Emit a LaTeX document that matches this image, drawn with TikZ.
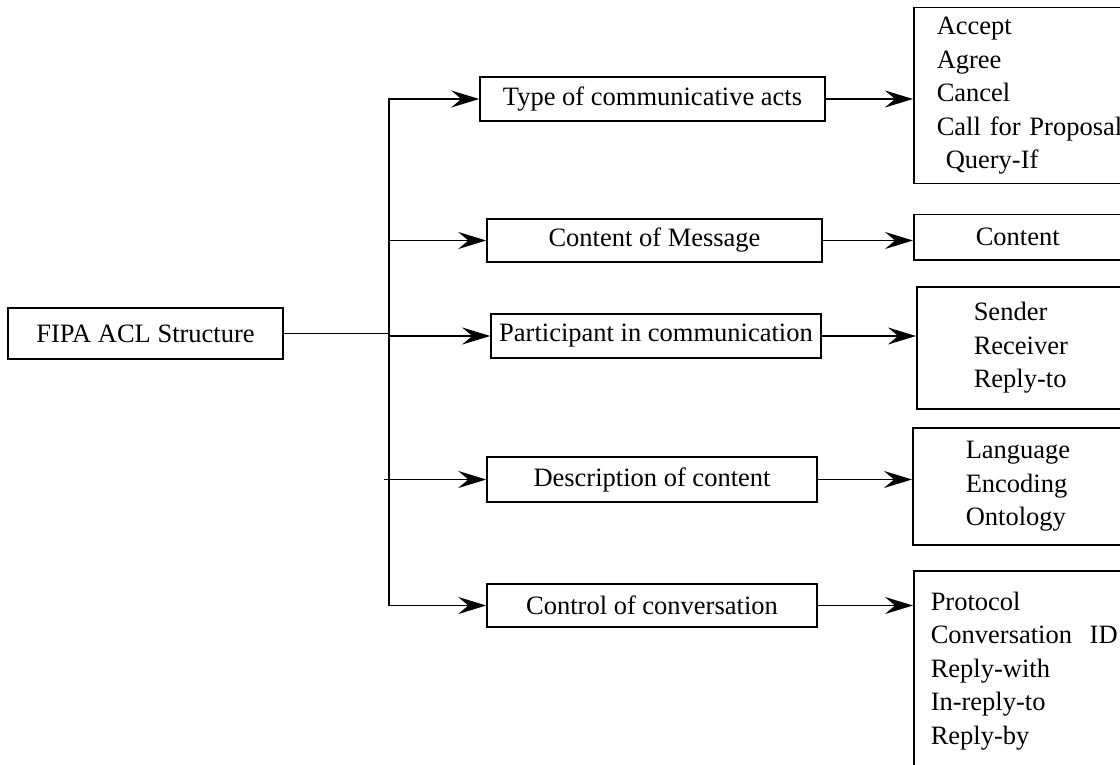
\documentclass[tikz,border=0pt]{standalone}
\usepackage{fontspec}
\setmainfont{Liberation Serif}
\usetikzlibrary{arrows.meta,calc}
\begin{document}
\begin{tikzpicture}[x=1pt,y=-1pt,
  box/.style={draw, line width=1.5pt, inner sep=0pt, font=\fontsize{26.5}{33.5}\selectfont},
  arr/.style={line width=1.5pt, -{Stealth[length=28pt,width=17pt,inset=10pt]}},
  ln/.style={line width=1.5pt},
  list/.style={box, anchor=north west, align=left, text width=300pt, inner xsep=#1, inner ysep=0pt}
]
\useasboundingbox (0,0) rectangle (1120,765);
\clip (0,0) rectangle (1120,765);

% root
\node[box, minimum width=275pt, minimum height=51pt] (fipa) at (145.5,333.5) {FIPA ACL Structure};

% middle column
\node[box, minimum width=345pt, minimum height=44pt] (type) at (652.5,99) {Type of communicative acts};
\node[box, minimum width=335pt, minimum height=43pt] (msg)  at (654.5,240.5) {Content of Message};
\node[box, minimum width=330pt, minimum height=44pt] (part) at (656,336) {Participant in communication};
\node[box, minimum width=330pt, minimum height=45pt] (desc) at (652,479.5) {Description of content};
\node[box, minimum width=330pt, minimum height=43pt] (ctrl) at (652,605.5) {Control of conversation};

% right column
\node[list=23pt, minimum height=176pt] (acts)  at (913,7)   {Accept\\Agree\\Cancel\\Call for Proposal\\\hspace*{9pt}Query-If};
\node[list=62pt, minimum height=45pt]  (cont)  at (913,214) {Content};
\node[list=57pt, minimum height=122pt] (who)   at (916,286) {Sender\\Receiver\\Reply-to};
\node[list=53pt, minimum height=117pt] (lang)  at (912,427) {Language\\Encoding\\Ontology};
\node[list=17pt, minimum height=200pt] (proto) at (913,570) {Protocol\\Conversation\ \ ID\\Reply-with\\In-reply-to\\Reply-by};

% trunk
\coordinate (trunk) at (389,0);
\draw[ln] (fipa.east) -- (fipa.east -| trunk);
\draw[arr] (ctrl.west -| trunk) -- (type.west -| trunk) -- (type.west);
\draw[arr] (type.west -| trunk) -- (ctrl.west -| trunk) -- (ctrl.west);
\draw[arr] (msg.west -| trunk) -- (msg.west);
\draw[arr] (part.west -| trunk) -- (part.west);
\draw[arr] ([xshift=-5pt]desc.west -| trunk) -- (desc.west);

% to the right column
\draw[arr] (type.east) -- (type.east -| acts.west);
\draw[arr] (msg.east)  -- (msg.east -| cont.west);
\draw[arr] (part.east) -- (part.east -| who.west);
\draw[arr] (desc.east) -- (desc.east -| lang.west);
\draw[arr] (ctrl.east) -- (ctrl.east -| proto.west);
\end{tikzpicture}
\end{document}
